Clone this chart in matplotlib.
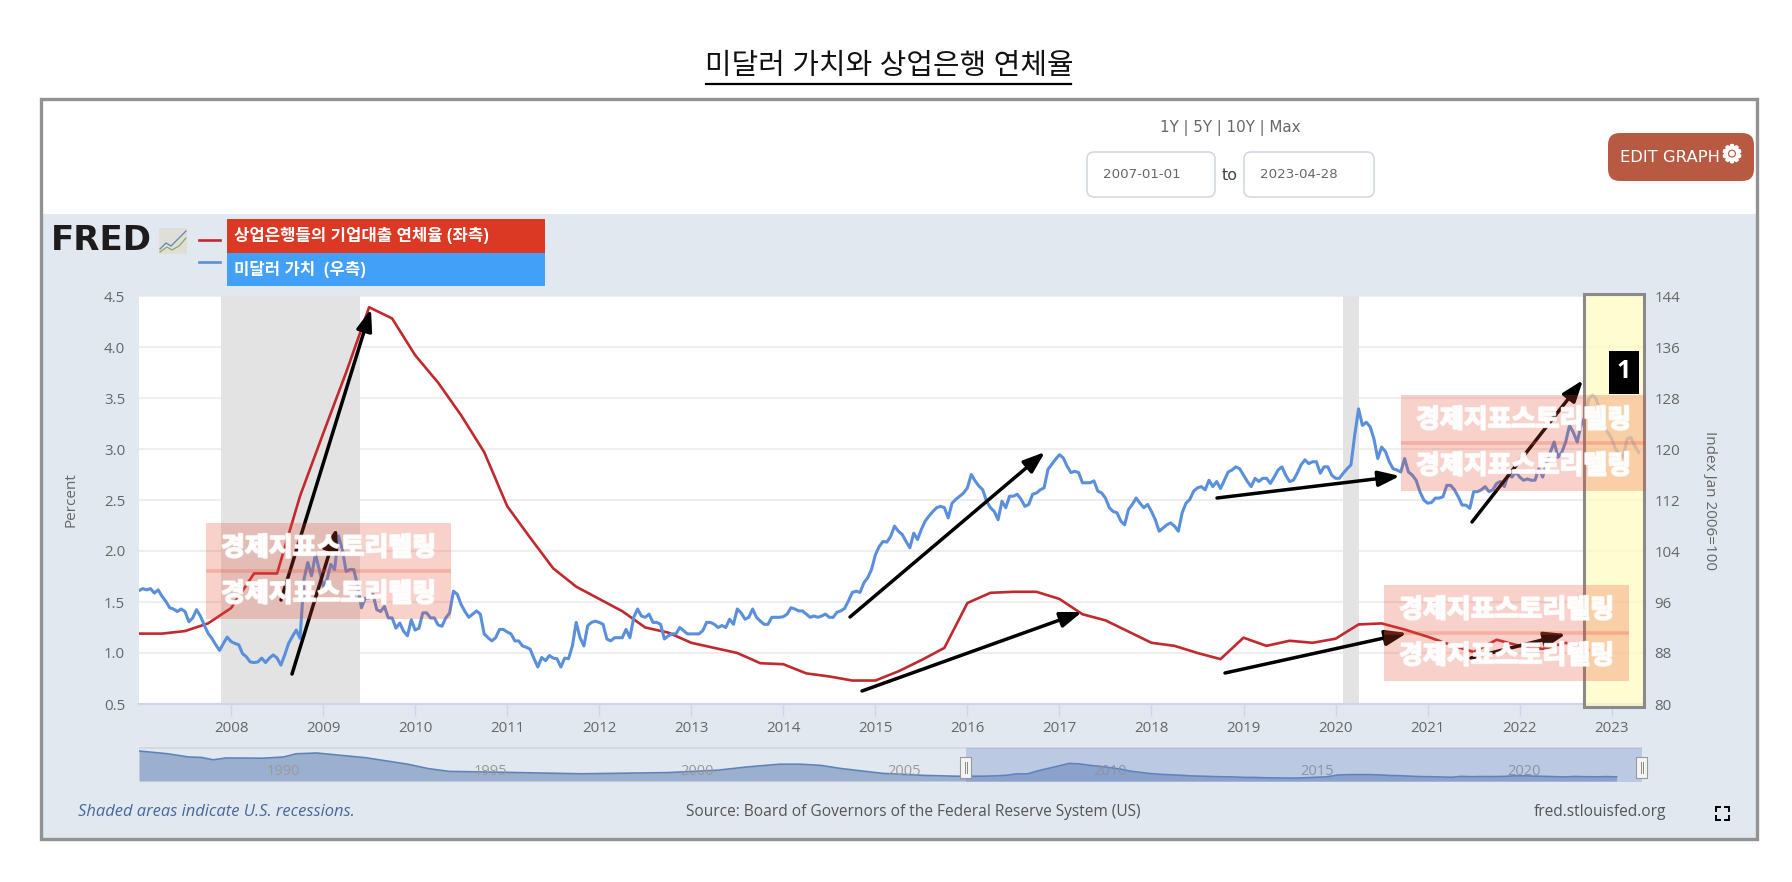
import matplotlib
matplotlib.use("Agg")
import matplotlib.pyplot as plt
import matplotlib.patheffects as pe
import numpy as np
from matplotlib.patches import Rectangle, FancyBboxPatch, FancyArrowPatch

plt.rcParams['font.family'] = ['Open Sans', 'Noto Sans CJK KR', 'DejaVu Sans']

W, H = 1792, 882

# 연체율 (분기, 좌측) 2007Q1 ~ 2022Q4
delinquency = [1.19, 1.19, 1.215, 1.29,
               1.44, 1.78, 1.78, 2.54,
               3.15, 3.75, 4.39, 4.28,
               3.92, 3.65, 3.33, 2.97,
               2.44, 2.13, 1.83, 1.65,
               1.53, 1.41, 1.25, 1.20,
               1.10, 1.05, 1.00, 0.90,
               0.89, 0.80, 0.77, 0.73,
               0.73, 0.82, 0.93, 1.05,
               1.49, 1.59, 1.60, 1.60,
               1.53, 1.38, 1.32, 1.21,
               1.10, 1.07, 1.00, 0.94,
               1.15, 1.07, 1.12, 1.10,
               1.14, 1.28, 1.29, 1.23,
               1.16, 1.08, 1.01, 1.13,
               1.07, 1.04, 1.10, 1.03]

# 달러 인덱스 (반월 간격으로 읽음, 우측)
dollar_2007 = [97.8, 98.1, 97.9, 98.1, 97.4, 97.9, 96.9, 96.1, 95.1, 94.9, 94.5, 94.9,
               94.5, 92.9, 93.5, 94.8, 93.8, 92.4, 91.1, 90.3, 89.3, 88.4, 89.5, 90.5]
dollar_2008 = [89.8, 89.5, 89.3, 87.9, 87.4, 86.6, 86.5, 86.6, 87.2, 86.5, 87.2, 87.7,
               87.2, 86.1, 87.7, 89.5, 90.6, 91.6, 90.3, 99.5, 102.2, 100.1, 103.5, 101.1]
dollar_2009 = [98.5, 99.5, 101.9, 101.1, 106.4, 104.3, 100.8, 101.1, 101.1, 98.5, 95.1, 96.6,
               96.6, 97.2, 94.8, 94.5, 95.3, 93.5, 93.5, 91.9, 92.7, 91.4, 90.7, 93.2]
dollar_2010 = [91.6, 91.9, 94.3, 94.3, 93.5, 93.5, 92.4, 92.2, 93.5, 94.3, 97.7, 97.2,
               95.6, 94.5, 93.6, 94.1, 94.6, 94.1, 91.0, 90.4, 89.9, 90.4, 91.7, 91.7]
dollar_2011 = [91.3, 91.0, 89.9, 89.9, 89.1, 88.9, 88.6, 87.1, 85.8, 87.3, 86.8, 87.6,
               87.2, 87.1, 85.8, 87.2, 87.1, 89.1, 92.8, 90.4, 89.1, 92.3, 92.8, 93.0]
dollar_2012 = [92.8, 92.5, 90.2, 89.9, 90.4, 90.4, 90.4, 91.7, 90.4, 93.6, 94.9, 93.8,
               93.6, 94.1, 92.8, 92.8, 92.5, 90.2, 90.7, 91.0, 91.0, 92.0, 91.5, 91.0]
dollar_2013 = [91.0, 91.0, 91.0, 91.5, 92.8, 92.8, 92.5, 92.0, 92.3, 92.0, 93.3, 92.5,
               94.9, 94.3, 93.3, 93.6, 94.9, 93.6, 93.0, 92.5, 92.5, 93.6, 93.6, 93.6]
dollar_2014 = [93.7, 94.1, 95.1, 94.9, 94.6, 94.6, 94.1, 93.6, 93.8, 93.6, 93.8, 94.1,
               93.6, 93.6, 94.4, 94.6, 95.0, 96.2, 97.5, 97.7, 97.5, 99.0, 99.8, 101.1]
dollar_2015 = [103.4, 104.7, 105.5, 105.4, 106.3, 107.9, 107.1, 106.6, 105.5, 104.5, 106.8, 105.8,
               107.4, 108.7, 109.5, 110.2, 110.8, 111.0, 110.8, 109.2, 111.5, 112.1, 112.6, 113.1]
dollar_2016 = [113.9, 116.0, 115.0, 114.2, 113.6, 111.8, 110.8, 110.2, 108.9, 111.8, 110.8, 112.6,
               112.6, 112.9, 112.1, 111.0, 111.3, 112.9, 113.1, 113.6, 113.9, 116.8, 117.6, 118.4]
dollar_2017 = [119.1, 118.6, 117.3, 116.3, 116.5, 116.3, 114.7, 114.7, 114.7, 115.0, 113.4, 113.1,
               112.3, 110.8, 110.2, 110.0, 108.7, 108.1, 110.5, 111.3, 112.3, 111.5, 110.8, 111.3]
dollar_2018 = [110.2, 108.9, 107.1, 107.6, 108.1, 108.4, 107.9, 107.1, 110.0, 111.5, 112.1, 113.4,
               113.9, 114.1, 113.6, 115.1, 114.1, 114.9, 113.8, 115.1, 116.4, 116.7, 117.2, 116.9]
dollar_2019 = [115.9, 114.9, 114.1, 115.4, 114.9, 115.4, 115.4, 114.6, 115.6, 116.7, 117.2, 115.9,
               114.9, 115.1, 116.2, 117.5, 118.3, 117.7, 118.0, 118.0, 116.2, 117.2, 117.2, 115.9]
dollar_2020 = [115.4, 115.4, 116.2, 116.9, 117.5, 122.2, 126.3, 123.7, 124.2, 123.5, 121.6, 118.5,
               120.3, 119.6, 118.0, 116.9, 116.7, 116.4, 118.5, 116.4, 115.9, 115.1, 113.3, 112.0]
dollar_2021 = [111.5, 111.6, 112.3, 112.3, 112.5, 114.3, 114.3, 113.6, 112.5, 111.2, 111.2, 110.7,
               113.3, 113.3, 113.6, 114.1, 113.3, 113.6, 114.6, 114.9, 114.1, 115.9, 115.6, 116.4]
dollar_2022 = [115.6, 115.1, 115.3, 115.1, 115.1, 116.9, 115.6, 117.7, 119.5, 121.1, 118.7, 119.5,
               121.1, 123.7, 122.6, 121.1, 123.7, 125.0, 127.8, 128.5, 127.8, 125.8, 123.4, 122.6]
dollar_2023 = [121.6, 120.0, 119.2, 118.7, 121.6, 121.8, 120.5, 119.5]

dollar = (dollar_2007 + dollar_2008 + dollar_2009 + dollar_2010 + dollar_2011 + dollar_2012
          + dollar_2013 + dollar_2014 + dollar_2015 + dollar_2016 + dollar_2017 + dollar_2018
          + dollar_2019 + dollar_2020 + dollar_2021 + dollar_2022 + dollar_2023)

recessions = [(2007.895, 2009.40), (2020.08, 2020.25)]
year_ticks = list(range(2008, 2024))
left_ticks = [0.5, 1.0, 1.5, 2.0, 2.5, 3.0, 3.5, 4.0, 4.5]
right_ticks = [80, 88, 96, 104, 112, 120, 128, 136, 144]

# 하단 네비게이터 (1987 ~ 2006, 이후는 delinquency 사용)
nav_years = [1987.0, 1987.7, 1988.2, 1988.5, 1988.8, 1989.1, 1990.0, 1990.5, 1990.8, 1991.3,
             1992.5, 1993.5, 1994.0, 1994.5, 1995.7, 1997.7, 1999.8, 2001.0, 2001.7, 2002.5,
             2003.0, 2003.5, 2004.0, 2005.0, 2006.0, 2006.75]
nav_values = [7.5, 6.8, 6.0, 5.9, 5.3, 5.75, 5.7, 6.0, 6.8, 7.0,
              5.8, 4.2, 3.1, 2.4, 2.2, 1.8, 2.1, 2.7, 3.5, 4.2,
              4.2, 3.9, 3.1, 1.9, 1.4, 1.2]
nav_labels = [1990, 1995, 2000, 2005, 2010, 2015, 2020]

watermark = "경제지표스토리텔링"

RED = "#c1292e"
BLUE = "#5a8fdc"
GREY = "#666666"


def ax_px(x0, y0, x1, y1):
    return [x0 / W, 1 - y1 / H, (x1 - x0) / W, (y1 - y0) / H]


fig = plt.figure(figsize=(W / 100, H / 100), dpi=100, facecolor="white")

# 배경 패널
bg = fig.add_axes([0, 0, 1, 1], zorder=0)
bg.set_xlim(0, W)
bg.set_ylim(H, 0)
bg.axis("off")
bg.add_patch(Rectangle((41, 214), 1716, 625, fc="#e1e8f0", ec="none"))

# 메인 차트
ax = fig.add_axes(ax_px(139, 296, 1643, 704), zorder=1)
ax.set_facecolor("white")
ax.set_xlim(2007.0, 2023.34)
ax.set_ylim(0.5, 4.5)
for a, b in recessions:
    ax.axvspan(a, b, color="#e3e3e3", lw=0, zorder=2)
ax.set_yticks(left_ticks)
ax.set_yticklabels([f"{v:.1f}" for v in left_ticks])
ax.grid(axis="y", color="#eeeeee", lw=1.5, zorder=1)
ax.set_axisbelow(True)
ax.set_xticks(year_ticks)
ax.tick_params(axis="x", length=8.5, width=1, color="#ccd6eb", labelcolor=GREY, labelsize=10.8, pad=4)
ax.tick_params(axis="y", length=0, labelcolor=GREY, labelsize=10.8, pad=10)
for s in ["top", "left", "right"]:
    ax.spines[s].set_visible(False)
ax.spines["bottom"].set_color("#ccd6eb")
ax.spines["bottom"].set_linewidth(1.5)
ax.set_ylabel("Percent", color=GREY, fontsize=11, labelpad=18)
ax.plot(2007 + np.arange(len(delinquency)) / 4, delinquency, color=RED, lw=1.9, zorder=3)

ax2 = ax.twinx()
ax2.set_zorder(2)
ax2.patch.set_visible(False)
ax2.set_ylim(80, 144)
ax2.set_yticks(right_ticks)
ax2.tick_params(axis="y", length=0, labelcolor=GREY, labelsize=10.8, pad=8)
for s in ax2.spines.values():
    s.set_visible(False)
ax2.set_ylabel("Index Jan 2006=100", color=GREY, fontsize=11, rotation=270, labelpad=27)
ax2.plot(2007 + np.arange(len(dollar)) / 24, dollar, color=BLUE, lw=2.2, zorder=3)

# 네비게이터
nav = fig.add_axes(ax_px(139, 748, 1643, 781), zorder=1)
nav.patch.set_visible(False)
nav.set_xlim(1987, 1987 + 1504 / 41.33)
nav.set_ylim(0, 8.25)
nav.axis("off")
nx = nav_years + list(2007 + np.arange(len(delinquency)) / 4)
ny = nav_values + delinquency
nav.fill_between(nx, ny, 0, color="#9bb0cf", lw=0)
nav.plot(nx, ny, color="#5f83b8", lw=1.2)
for yr in nav_labels:
    nav.text(yr + 0.5, 2.4, str(yr), color="#9a9a9a", fontsize=10.5, ha="center", va="center")

# 오버레이 (픽셀 좌표)
ov = fig.add_axes([0, 0, 1, 1], zorder=5)
ov.patch.set_visible(False)
ov.set_xlim(0, W)
ov.set_ylim(H, 0)
ov.axis("off")

# 외곽선, 제목
ov.add_patch(Rectangle((41, 99), 1716, 740, fc="none", ec="#929292", lw=2.4))
ov.text(889, 66, "미달러 가치와 상업은행 연체율", fontsize=20.8, ha="center", va="center", color="#111111")
ov.plot([706, 1071], [84, 84], color="black", lw=1.6)

# 상단 컨트롤
ov.text(1230, 128, "1Y | 5Y | 10Y | Max", family="DejaVu Sans", fontsize=10.9, color=GREY, ha="center", va="center")
for x0, x1, label in [(1087, 1215, "2007-01-01"), (1244, 1374, "2023-04-28")]:
    ov.add_patch(FancyBboxPatch((x0, 152), x1 - x0, 45, boxstyle="round,pad=0,rounding_size=7",
                                fc="white", ec="#d3d9e2", lw=1.2))
    ov.text(x0 + 16, 175, label, family="DejaVu Sans", fontsize=9.6, color=GREY, ha="left", va="center")
ov.text(1230, 175, "to", family="DejaVu Sans", fontsize=11.5, color="#444444", ha="center", va="center")
ov.add_patch(FancyBboxPatch((1618, 143), 126, 28, boxstyle="round,pad=10,rounding_size=12",
                            fc="#b85a42", ec="none"))
ov.text(1620, 157, "EDIT GRAPH", family="DejaVu Sans", fontsize=11.8, color="white", ha="left", va="center")
ov.text(1732, 155, "\u2699", family="DejaVu Sans", fontsize=17, color="white", ha="center", va="center",
        path_effects=[pe.withStroke(linewidth=1.5, foreground="white")])

# 로고와 범례
ov.text(51, 241, "FRED", fontsize=24.5, weight="bold", family="DejaVu Sans", color="#1d1b1c", ha="left", va="center")
ov.add_patch(Rectangle((159, 228), 28, 26, fc="#dfdfd8", ec="none"))
ov.plot([160, 166, 171, 177, 186], [249, 243, 246, 240, 231], color="#5e88a8", lw=0.9)
ov.plot([160, 167, 172, 179, 186], [252, 247, 250, 246, 238], color="#8ca85e", lw=0.9)
ov.plot([199, 220], [240, 240], color=RED, lw=1.9)
ov.plot([199, 220], [262, 262], color=BLUE, lw=1.9)
ov.add_patch(Rectangle((227, 219), 318, 34, fc="#dc3924", ec="none"))
ov.add_patch(Rectangle((227, 253), 318, 33, fc="#42a0f8", ec="none"))
ov.text(234, 236, "상업은행들의 기업대출 연체율 (좌측)", fontsize=12, weight="bold", color="white", va="center")
ov.text(234, 270, "미달러 가치  (우측)", fontsize=12, weight="bold", color="white", va="center")

# 화살표
arrows = [((292, 674), (337, 528)), ((281, 600), (371, 309)), ((850, 617), (1045, 452)),
          ((862, 691), (1082, 612)), ((1217, 498), (1400, 476)), ((1225, 673), (1407, 633)),
          ((1472, 522), (1583, 380)), ((1471, 658), (1566, 634))]
for tail, tip in arrows:
    ov.add_patch(FancyArrowPatch(tail, tip, arrowstyle="-|>,head_length=0.72,head_width=0.26",
                                 mutation_scale=18, lw=2.5, color="black",
                                 shrinkA=0, shrinkB=0, zorder=4))

# 노란 강조 박스
ov.add_patch(Rectangle((1584, 294), 60, 413, fc="#fffbc0", ec="none", alpha=0.72, zorder=5))
ov.add_patch(Rectangle((1584, 294), 60, 413, fc="none", ec="#8a8a8a", lw=2.2, zorder=5))

# 워터마크
for x0, x1, y0, y1 in [(206, 451, 523, 619), (1401, 1646, 395, 491), (1384, 1629, 585, 681)]:
    mid = (y0 + y1) / 2
    ov.add_patch(Rectangle((x0, y0), x1 - x0, y1 - y0, fc="#ea4a30", ec="none", alpha=0.25, zorder=6))
    ov.plot([x0, x1], [mid, mid], color="#ea4a30", alpha=0.25, lw=2.6, zorder=6, solid_capstyle="butt")
    for yy in (mid - 23, mid + 23):
        ov.text((x0 + x1) / 2, yy, watermark, fontsize=18.7, weight="bold", color="white", alpha=0.85,
                ha="center", va="center", zorder=7,
                path_effects=[pe.withStroke(linewidth=1.4, foreground="white", alpha=0.85)])

# 번호 박스
ov.add_patch(Rectangle((1609, 351), 30, 43, fc="black", ec="none", zorder=8))
ov.text(1624, 372, "1", fontsize=18, weight="bold", color="white", ha="center", va="center", zorder=9)

# 네비게이터 선택 영역
ov.add_patch(Rectangle((139, 747), 1503, 2, fc="#d5d8dc", ec="none", zorder=2))
ov.add_patch(Rectangle((966, 748), 676, 34, fc="#6685c2", ec="none", alpha=0.3, zorder=2))
for hx in (960, 1636):
    ov.add_patch(Rectangle((hx, 757), 11, 21, fc="#f4f4f4", ec="#999999", lw=0.8, zorder=3))
    ov.plot([hx + 4.5, hx + 4.5], [762, 773], color="#888888", lw=0.7, zorder=3)
    ov.plot([hx + 6.5, hx + 6.5], [762, 773], color="#888888", lw=0.7, zorder=3)

# 푸터
ov.text(78, 812, "Shaded areas indicate U.S. recessions.", style="italic", fontsize=11.9, color="#47679b", va="center")
ov.text(913, 812, "Source: Board of Governors of the Federal Reserve System (US)", fontsize=11.2, color="#555555",
        ha="center", va="center")
ov.text(1600, 812, "fred.stlouisfed.org", fontsize=11.2, color="#555555", ha="center", va="center")
for cx, cy, dx, dy in [(1716, 807, 1, 1), (1729, 807, -1, 1), (1716, 820, 1, -1), (1729, 820, -1, -1)]:
    ov.plot([cx + 4 * dx, cx, cx], [cy, cy, cy + 4 * dy], color="black", lw=1.4, solid_joinstyle="miter")

fig.savefig("out.png", dpi=100)
